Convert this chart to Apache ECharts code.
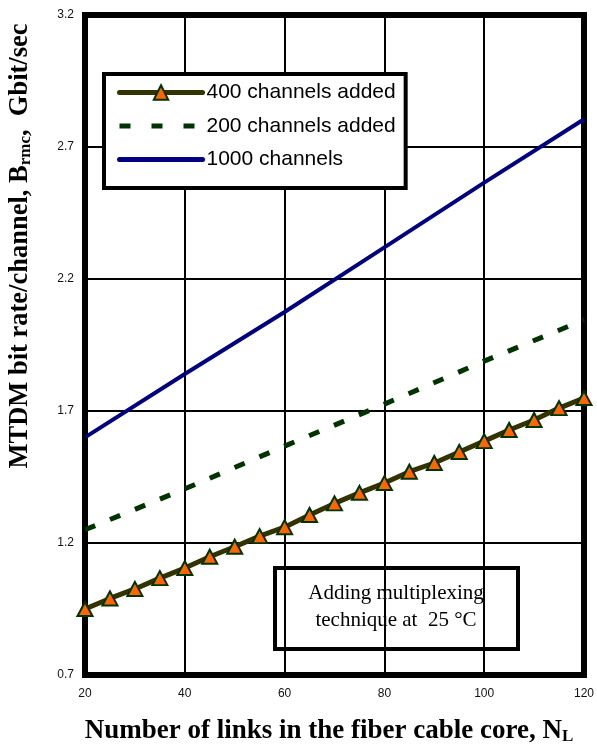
<!DOCTYPE html>
<html>
<head>
<meta charset="utf-8">
<script src="https://cdn.jsdelivr.net/npm/echarts@6/dist/echarts.min.js"></script>
<style>
  html, body { margin: 0; padding: 0; background: #ffffff; }
  #chart { width: 597px; height: 752px; }
</style>
</head>
<body>
<div id="chart"></div>
<script>
// Number of links N_L (marker series sampled every 5 links)
const linksFine = [20, 25, 30, 35, 40, 45, 50, 55, 60, 65, 70, 75, 80, 85, 90, 95, 100, 105, 110, 115, 120];
// MTDM bit rate per channel (Gbit/sec), 400 channels added
const rate400 = [0.95, 0.99, 1.026, 1.067, 1.105, 1.148, 1.186, 1.226, 1.26, 1.306, 1.35, 1.39, 1.427, 1.47, 1.503, 1.545, 1.586, 1.628, 1.666, 1.711, 1.749];

// Number of links for the two plain-line series
const linksCoarse = [20, 40, 60, 80, 100, 120];
// 200 channels added
const rate200 = [1.25, 1.405, 1.567, 1.726, 1.889, 2.045];
// 1000 channels
const rate1000 = [1.60, 1.84, 2.075, 2.32, 2.565, 2.805];

// Axis tick labels
const xTickLabels = ['20', '40', '60', '80', '100', '120'];
const yTickLabels = ['0.7', '1.2', '1.7', '2.2', '2.7', '3.2'];

const seriesNames = ['400 channels added', '200 channels added', '1000 channels'];

const pairs = (xs, ys) => xs.map((x, i) => [x, ys[i]]);

const chart = echarts.init(document.getElementById('chart'), null, { renderer: 'canvas' });

const serif = '"Liberation Serif", "Times New Roman", serif';
const sans = '"Liberation Sans", Arial, sans-serif';

const COLOR_400 = '#333300';
const COLOR_200 = '#003300';
const COLOR_1000 = '#000080';
const DASH_200 = [11, 16];

chart.setOption({
  backgroundColor: '#ffffff',
  animation: false,
  grid: {
    left: 85, right: 10, top: 15, bottom: 77,
    show: true,
    backgroundColor: '#ffffff',
    borderColor: '#000000',
    borderWidth: 6
  },
  legend: {
    orient: 'vertical',
    left: 104, top: 74,
    z: 20,
    data: [
      {
        name: seriesNames[0],
        lineStyle: { color: COLOR_400, width: 5, cap: 'round' },
        itemStyle: { color: '#FF6600', borderColor: '#003300', borderWidth: 2 }
      },
      {
        name: seriesNames[1],
        lineStyle: { color: COLOR_200, width: 5, type: [11, 21], cap: 'butt' },
        itemStyle: { opacity: 0 }
      },
      {
        name: seriesNames[2],
        lineStyle: { color: COLOR_1000, width: 5, cap: 'round' },
        itemStyle: { opacity: 0 }
      }
    ],
    itemWidth: 83,
    itemHeight: 18,
    itemGap: 12.5,
    padding: [8, 10, 18, 13],
    backgroundColor: '#ffffff',
    borderColor: '#000000',
    borderWidth: 4,
    borderRadius: 0,
    textStyle: { fontFamily: sans, fontSize: 21, color: '#000000', padding: [0, 0, 0, -1] }
  },
  xAxis: {
    type: 'value',
    min: 20, max: 120, interval: 20,
    axisLine: { show: false },
    axisTick: { show: false },
    axisLabel: {
      margin: 13,
      fontFamily: sans, fontSize: 12, color: '#111111',
      formatter: (v, i) => xTickLabels[i]
    },
    splitLine: { show: true, lineStyle: { color: '#000000', width: 2 } }
  },
  yAxis: [
    {
      // data scale, in Gbit/sec
      type: 'value',
      min: 0.7, max: 3.2,
      show: false
    },
    {
      // tick/grid scale, offset from the 0.7 baseline
      type: 'value',
      min: 0, max: 2.5, interval: 0.5,
      position: 'left',
      axisLine: { show: false },
      axisTick: { show: false },
      axisLabel: {
        margin: 11,
        fontFamily: sans, fontSize: 12, color: '#111111',
        formatter: (v, i) => yTickLabels[i]
      },
      splitLine: { show: true, lineStyle: { color: '#000000', width: 2 } }
    }
  ],
  series: [
    {
      name: seriesNames[0],
      type: 'line',
      yAxisIndex: 0,
      data: pairs(linksFine, rate400),
      symbol: 'triangle',
      symbolSize: [15, 14],
      z: 5,
      lineStyle: { color: COLOR_400, width: 5 },
      itemStyle: { color: '#FF6600', borderColor: '#003300', borderWidth: 2 }
    },
    {
      name: seriesNames[1],
      type: 'line',
      yAxisIndex: 0,
      data: pairs(linksCoarse, rate200),
      symbol: 'none',
      z: 4,
      lineStyle: { color: COLOR_200, width: 5, type: DASH_200, cap: 'butt' },
      itemStyle: { color: COLOR_200 }
    },
    {
      name: seriesNames[2],
      type: 'line',
      yAxisIndex: 0,
      data: pairs(linksCoarse, rate1000),
      symbol: 'none',
      z: 4,
      lineStyle: { color: COLOR_1000, width: 4 },
      itemStyle: { color: COLOR_1000 }
    }
  ],
  graphic: [
    {
      type: 'text',
      x: 20, y: 246,
      rotation: Math.PI / 2,
      z: 30,
      style: {
        text: '{a|MTDM bit rate/channel, B}{s|rmc}{a|,  Gbit/sec}',
        align: 'center',
        verticalAlign: 'middle',
        rich: {
          a: { fontFamily: serif, fontWeight: 'bold', fontSize: 26.5, fill: '#000000' },
          s: { fontFamily: serif, fontWeight: 'bold', fontSize: 17, fill: '#000000', padding: [11, 0, 0, 0] }
        }
      }
    },
    {
      type: 'text',
      x: 329, y: 731,
      z: 30,
      style: {
        text: '{a|Number of links in the fiber cable core, N}{s|L}',
        align: 'center',
        verticalAlign: 'middle',
        rich: {
          a: { fontFamily: serif, fontWeight: 'bold', fontSize: 27, fill: '#000000' },
          s: { fontFamily: serif, fontWeight: 'bold', fontSize: 17, fill: '#000000', padding: [11, 0, 0, 0] }
        }
      }
    },
    {
      type: 'group',
      z: 30,
      children: [
        {
          type: 'rect',
          shape: { x: 275, y: 568, width: 243, height: 81 },
          style: { fill: '#ffffff', stroke: '#000000', lineWidth: 4 }
        },
        {
          type: 'text',
          x: 396, y: 593,
          style: {
            text: 'Adding multiplexing',
            align: 'center', verticalAlign: 'middle',
            fontFamily: serif, fontSize: 21, fill: '#000000'
          }
        },
        {
          type: 'text',
          x: 396, y: 620,
          style: {
            text: 'technique at  25 °C',
            align: 'center', verticalAlign: 'middle',
            fontFamily: serif, fontSize: 21, fill: '#000000'
          }
        }
      ]
    }
  ]
});
</script>
</body>
</html>
